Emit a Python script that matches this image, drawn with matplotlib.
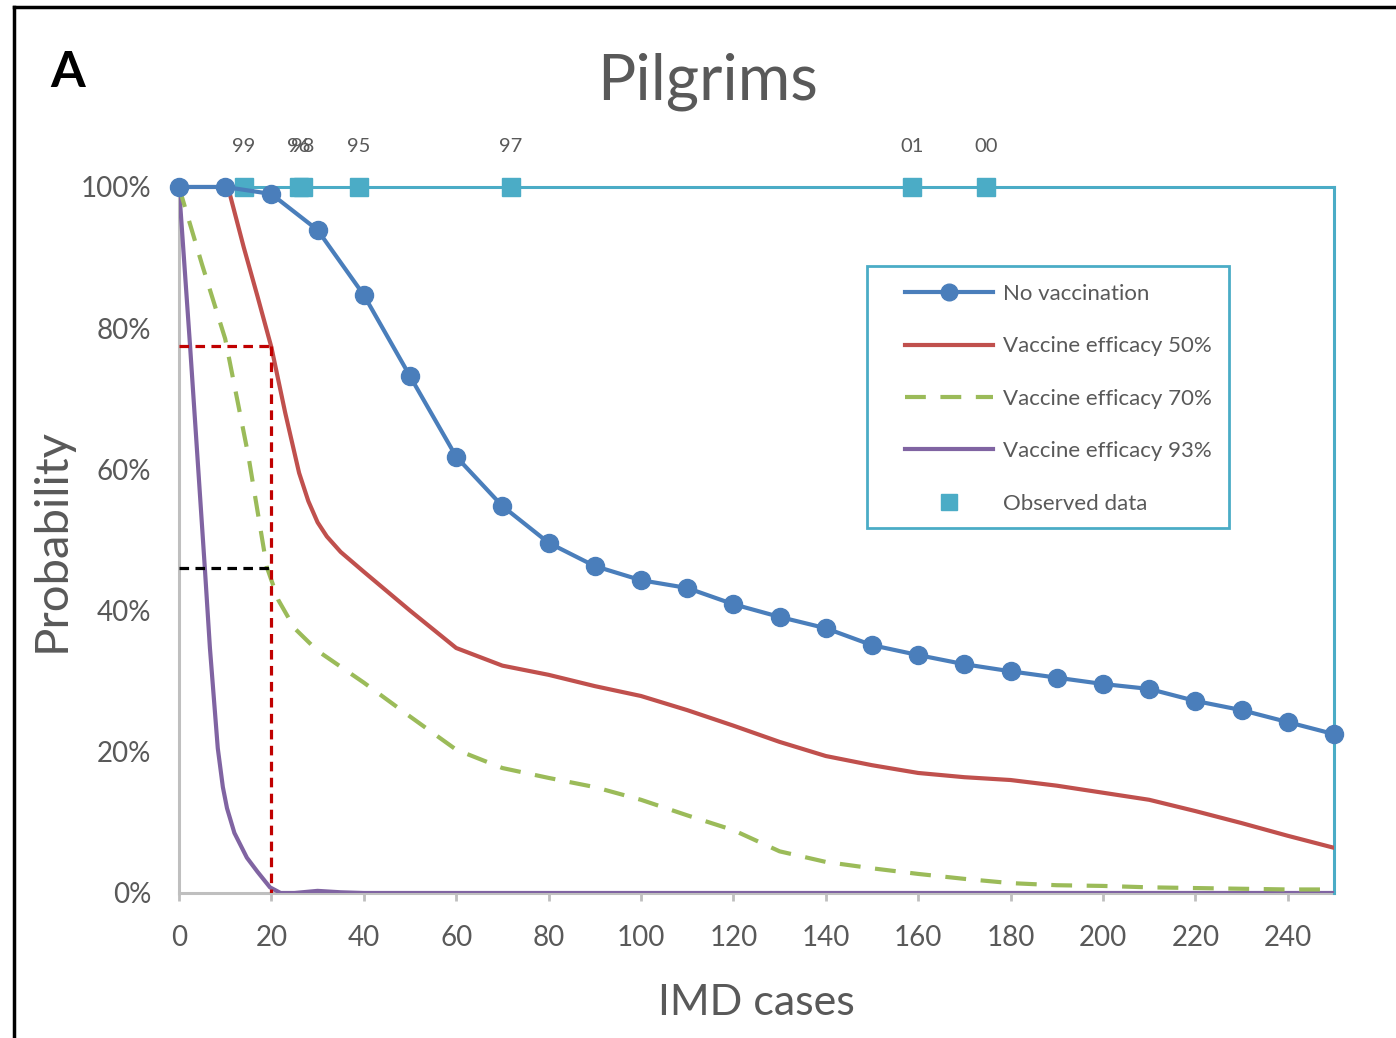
import matplotlib
matplotlib.use("Agg")
import matplotlib.pyplot as plt
from matplotlib.lines import Line2D
from matplotlib.patches import Rectangle

plt.rcParams['font.family'] = ['Lato', 'DejaVu Sans']

# ---------------- data ----------------
x_novac = [0, 10, 20, 30, 40, 50, 60, 70, 80, 90, 100, 110, 120, 130, 140, 150,
           160, 170, 180, 190, 200, 210, 220, 230, 240, 250]
y_novac = [100, 100, 99.0, 93.9, 84.7, 73.2, 61.8, 54.8, 49.6, 46.3, 44.3, 43.2,
           40.9, 39.1, 37.5, 35.1, 33.7, 32.4, 31.4, 30.5, 29.6, 28.9, 27.2, 25.9,
           24.2, 22.5]

x_ve50 = [0, 10, 11, 12, 14, 17, 20, 23, 26, 28, 30, 32, 35, 40, 50, 60, 70, 80,
          90, 100, 110, 120, 130, 140, 150, 160, 170, 180, 190, 200, 210, 220, 230,
          240, 250]
y_ve50 = [100, 100, 99, 96.5, 91.5, 84.5, 77.3, 68, 59.5, 55.5, 52.5, 50.5, 48.3,
          45.5, 40, 34.7, 32.2, 30.9, 29.3, 27.9, 25.9, 23.7, 21.4, 19.4, 18.1,
          17.0, 16.4, 16.0, 15.2, 14.2, 13.2, 11.6, 9.9, 8.1, 6.4]

x_ve70 = [0, 5, 10, 15, 19, 21.5, 25, 30, 40, 50, 60, 70, 80, 90, 100, 110, 120,
          130, 140, 150, 160, 170, 180, 190, 200, 210, 220, 230, 240, 250]
y_ve70 = [100, 89, 78.5, 62, 46.2, 41.5, 37.5, 34.3, 29.8, 25.0, 20.3, 17.7, 16.3,
          15.0, 13.2, 11.0, 8.9, 5.9, 4.4, 3.5, 2.7, 2.0, 1.4, 1.1, 1.0, 0.8, 0.7,
          0.6, 0.5, 0.5]

x_ve93 = [0, 2.4, 5.6, 6.7, 8.4, 9.5, 10.4, 12, 14.7, 17, 19.7, 22, 25, 30, 35,
          40, 250]
y_ve93 = [100, 77.5, 46, 34.7, 20.5, 15, 12, 8.5, 5, 3, 0.8, 0, 0, 0.3, 0.1, 0, 0]

x_obs = [14.1, 26.0, 26.8, 39.0, 71.8, 158.6, 174.6]
y_obs = [100, 100, 100, 100, 100, 100, 100]
obs_labels = ["99", "96", "98", "95", "97", "01", "00"]

ref_x = 20
ref_y50 = 77.5
ref_y70 = 46

series_labels = ["No vaccination", "Vaccine efficacy 50%", "Vaccine efficacy 70%",
                 "Vaccine efficacy 93%", "Observed data"]
x_ticks = list(range(0, 241, 20))
y_ticks = [0, 20, 40, 60, 80, 100]

# ---------------- colours ----------------
C_BLUE = "#4A7EBB"
C_RED = "#C0504D"
C_GREEN = "#9BBB59"
C_PURPLE = "#8064A2"
C_CYAN = "#4BACC6"
C_TEXT = "#595959"
C_AXIS = "#BFBFBF"

fig = plt.figure(figsize=(13.96, 10.38), dpi=100)
ax = fig.add_axes([0.1282, 0.1397, 0.8274, 0.6802])

ax.plot(x_ve93, y_ve93, color=C_PURPLE, lw=3, zorder=3, solid_capstyle='round',
        solid_joinstyle='round')
ax.plot(x_ve70, y_ve70, color=C_GREEN, lw=3, dashes=(5, 3.5), zorder=3)
ax.plot(x_ve50, y_ve50, color=C_RED, lw=3, zorder=3, solid_capstyle='round',
        solid_joinstyle='round')
ax.plot(x_obs, y_obs, linestyle='none', marker='s', ms=13, color=C_CYAN,
        mec=C_CYAN, zorder=5, clip_on=False)
ax.plot(x_novac, y_novac, color=C_BLUE, lw=3, marker='o', ms=13, zorder=6,
        clip_on=False, solid_joinstyle='round')

for xo, yo, lab in zip(x_obs, y_obs, obs_labels):
    ax.annotate(lab, (xo, yo), xytext=(0, 29), textcoords='offset points',
                ha='center', va='center', fontsize=14.5, color=C_TEXT,
                annotation_clip=False)

# reference dashed lines
ax.plot([0, ref_x], [ref_y50, ref_y50], color="#C00000", lw=2.3, dashes=(3, 2),
        zorder=7)
ax.plot([ref_x, ref_x], [ref_y50, 0], color="#C00000", lw=2.3, dashes=(3, 2),
        zorder=7)
ax.plot([0, ref_x], [ref_y70, ref_y70], color="black", lw=2.3, dashes=(3, 2),
        zorder=7)

ax.set_xlim(0, 250)
ax.set_ylim(0, 100)
ax.set_xticks(x_ticks)
ax.set_xticklabels([str(v) for v in x_ticks])
ax.set_yticks(y_ticks)
ax.set_yticklabels([f"{v}%" for v in y_ticks])
ax.tick_params(axis='x', colors=C_AXIS, labelcolor=C_TEXT, labelsize=20,
               length=6, width=2, pad=17, direction='out')
ax.tick_params(axis='y', length=0, labelcolor=C_TEXT, labelsize=20, pad=20)

for s in ['left', 'bottom']:
    ax.spines[s].set_color(C_AXIS)
    ax.spines[s].set_linewidth(2.2)
    ax.spines[s].set_zorder(2)
for s in ['top', 'right']:
    ax.spines[s].set_color(C_CYAN)
    ax.spines[s].set_linewidth(2.2)

ax.set_xlabel("IMD cases", fontsize=31, color=C_TEXT, labelpad=24)
ax.set_ylabel("Probability", fontsize=34, color=C_TEXT, labelpad=6)

fig.text(0.507, 0.921, "Pilgrims", ha='center', va='center', fontsize=46,
         color=C_TEXT)
fig.text(0.036, 0.930, "A", ha='left', va='center', fontsize=36,
         fontweight='bold', color='black')

handles = [
    Line2D([], [], color=C_BLUE, lw=3, marker='o', ms=12),
    Line2D([], [], color=C_RED, lw=3),
    Line2D([], [], color=C_GREEN, lw=3, dashes=(5, 3.5)),
    Line2D([], [], color=C_PURPLE, lw=3),
    Line2D([], [], color=C_CYAN, marker='s', ms=12, linestyle='none'),
]
leg = ax.legend(handles, series_labels, loc='upper left',
                bbox_to_anchor=(0.6286, 0.8627), frameon=False,
                fontsize=16, handlelength=3.96, handletextpad=0.45,
                labelspacing=1.46, borderpad=0, borderaxespad=0)
for t in leg.get_texts():
    t.set_color(C_TEXT)
ax.add_patch(Rectangle((0.596, 0.517), 0.313, 0.371, transform=ax.transAxes,
                       fill=False, edgecolor=C_CYAN, lw=2, zorder=8))

# figure border (top and left)
fig.add_artist(Line2D([0.010, 0.010], [0, 0.993], transform=fig.transFigure,
                      color='black', lw=2.5))
fig.add_artist(Line2D([0.010, 1.0], [0.993, 0.993], transform=fig.transFigure,
                      color='black', lw=2.5))

fig.savefig("out.png", dpi=100)
